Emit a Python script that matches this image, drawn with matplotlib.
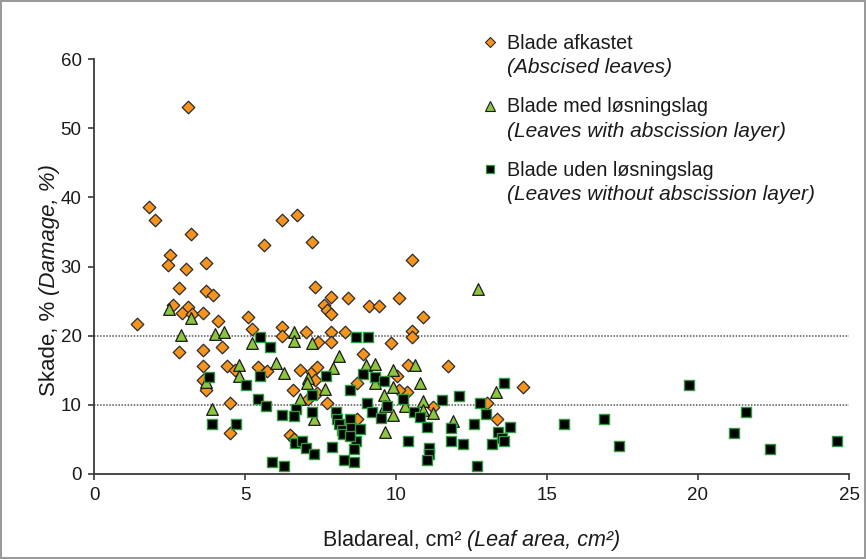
import numpy as np
import matplotlib as mpl
mpl.use("Agg")
import matplotlib.pyplot as plt
from matplotlib.lines import Line2D

plt.rcParams['font.family'] = ['Liberation Sans', 'DejaVu Sans']

# Blade afkastet (abscised leaves)
abscised_x = [3.10, 1.83, 2.03, 3.22, 2.50, 2.44, 3.03, 3.71, 2.83, 3.71, 3.93, 2.63, 3.12, 2.90,
              3.23, 3.62, 4.12, 1.42, 2.83, 3.62, 4.23, 3.62, 4.42, 4.67, 3.71, 4.50, 4.50, 5.11,
              5.22, 5.63, 6.23, 6.71, 7.23, 6.23, 6.23, 7.02, 7.43, 7.84, 7.84, 8.31, 7.32, 7.84,
              8.42, 7.63, 7.73, 7.84, 9.12, 9.44, 10.11, 10.52, 10.91, 10.52, 10.52, 9.82, 8.92,
              10.41, 11.71, 10.03, 8.72, 10.35, 11.24, 13.00, 13.33, 14.20, 8.70, 7.70, 5.44,
              5.72, 6.82, 7.21, 7.37, 7.32, 6.60, 7.10, 7.37, 6.49, 6.62, 3.62, 10.11]
abscised_y = [53.0, 38.6, 36.7, 34.7, 31.7, 30.2, 29.7, 30.5, 26.9, 26.5, 25.9, 24.5, 24.2, 23.3,
              23.2, 23.3, 22.1, 21.7, 17.6, 18.0, 18.4, 15.6, 15.6, 15.0, 12.1, 10.2, 6.0, 22.7,
              21.0, 33.1, 36.7, 37.4, 33.6, 21.2, 19.9, 20.6, 19.1, 20.6, 19.1, 20.5, 27.1, 25.6,
              25.4, 24.4, 23.7, 23.1, 24.3, 24.3, 25.4, 30.9, 22.7, 20.7, 19.8, 18.9, 17.4,
              15.8, 15.6, 14.2, 13.1, 11.9, 9.7, 10.2, 8.0, 12.6, 8.0, 10.3, 15.5,
              14.9, 15.0, 14.8, 15.5, 13.6, 12.2, 10.9, 11.7, 5.6, 5.0, 13.6, 12.1]

# Blade med løsningslag (leaves with abscission layer)
with_layer_x = [2.49, 3.22, 2.89, 4.01, 4.30, 4.81, 4.81, 3.71, 3.90, 5.23, 6.63, 6.63, 7.22,
                6.02, 6.30, 8.10, 7.91, 7.10, 7.04, 7.65, 6.82, 7.30, 9.02, 9.30, 9.30, 9.90,
                10.63, 10.81, 9.90, 9.59, 9.62, 10.30, 10.90, 10.90, 11.24, 9.91, 9.62, 11.90,
                12.73, 13.30]
with_layer_y = [23.8, 22.5, 20.1, 20.2, 20.6, 15.8, 14.2, 13.3, 9.4, 18.9, 20.6, 19.3, 18.9,
                16.1, 14.6, 17.0, 15.3, 13.9, 13.1, 12.3, 10.8, 7.9, 15.8, 15.9, 13.1, 15.0,
                15.8, 13.2, 12.6, 11.4, 9.8, 9.8, 10.6, 9.3, 8.8, 8.5, 6.1, 7.6,
                26.7, 11.9]

# Blade uden løsningslag (leaves without abscission layer)
without_layer_x = [3.82, 3.90, 4.69, 5.02, 5.50, 5.82, 5.50, 5.42, 5.70, 6.21, 6.69, 6.61, 7.22,
                   7.22, 7.69, 8.01, 6.66, 6.88, 7.02, 7.30, 5.88, 6.29, 7.89, 8.29, 8.61, 8.68,
                   9.08, 8.49, 8.90, 9.30, 9.61, 9.03, 9.21, 9.49, 9.70, 8.03, 8.10, 8.20, 8.26,
                   8.48, 8.50, 8.82, 8.69, 8.62, 8.48, 10.22, 10.61, 10.81, 11.01, 11.51, 12.10,
                   11.82, 11.82, 12.22, 10.41, 11.10, 11.10, 11.01, 12.69, 12.57, 12.77, 12.98,
                   13.58, 13.77, 13.39, 13.52, 13.58, 13.19, 15.57, 16.90, 17.37, 19.71, 21.59,
                   21.19, 22.38, 24.59]
without_layer_y = [14.0, 7.2, 7.2, 12.9, 19.8, 18.3, 14.2, 10.8, 9.8, 8.6, 9.4, 8.4, 11.4,
                   9.0, 14.2, 9.0, 4.5, 4.8, 3.7, 2.9, 1.8, 1.1, 3.9, 2.0, 1.7, 19.8,
                   19.8, 12.1, 14.4, 14.0, 13.4, 10.2, 9.0, 8.1, 9.9, 8.0, 7.2, 6.4, 5.8,
                   8.0, 6.7, 6.5, 4.8, 3.6, 5.5, 10.9, 9.0, 8.3, 6.8, 10.7, 11.3,
                   6.6, 4.8, 4.4, 4.7, 3.8, 2.9, 2.0, 1.2, 7.2, 10.3, 8.7,
                   13.1, 6.8, 6.1, 5.2, 4.8, 4.4, 7.3, 8.0, 4.0, 12.9, 9.0,
                   5.9, 3.6, 4.8]

ref_lines = [10, 20]
x_ticks = [0, 5, 10, 15, 20, 25]
y_ticks = [0, 10, 20, 30, 40, 50, 60]

labels_dk = ["Blade afkastet", "Blade med løsningslag", "Blade uden løsningslag"]
labels_en = ["(Abscised leaves)", "(Leaves with abscission layer)",
             "(Leaves without abscission layer)"]

orange = "#F7941D"
lime = "#8CC63F"
sq_edge = "#2E9B3E"
edge = "#2b2b2b"
txt = "#1a1a1a"

fig = plt.figure(figsize=(8.66, 5.59), dpi=100)
fig.patch.set_edgecolor("#9a9a9a")
fig.patch.set_linewidth(1.5)
ax = fig.add_axes([94 / 866, 85 / 559, 755 / 866, 415 / 559])

for yv in ref_lines:
    ax.axhline(yv, color="#555555", lw=1.1, ls=(0, (1, 1)), zorder=1)

ax.scatter(abscised_x, abscised_y, marker="D", s=6.4 ** 2, c=orange,
           edgecolors=edge, linewidths=0.9, zorder=3, clip_on=False)
ax.scatter(with_layer_x, with_layer_y, marker="^", s=8.4 ** 2, c=lime,
           edgecolors="#1a1a1a", linewidths=0.9, zorder=4, clip_on=False)
ax.scatter(without_layer_x, without_layer_y, marker="s", s=7.2 ** 2, c="black",
           edgecolors=sq_edge, linewidths=1.0, zorder=5, clip_on=False)

ax.set_xlim(0, 25)
ax.set_ylim(0, 60)
ax.set_xticks(x_ticks)
ax.set_yticks(y_ticks)
for s in ["top", "right"]:
    ax.spines[s].set_visible(False)
for s in ["left", "bottom"]:
    ax.spines[s].set_color("#3a3a3a")
    ax.spines[s].set_linewidth(1.3)
ax.tick_params(direction="out", length=4, width=1.2, color="#3a3a3a",
               labelsize=13.5, labelcolor=txt, pad=5)

fig.canvas.draw()
r = fig.canvas.get_renderer()


def text_size(s, size, rot=0, **kw):
    t = fig.text(0, 0, s, fontsize=size, rotation=rot, **kw)
    bb = t.get_window_extent(r)
    t.remove()
    return bb.width, bb.height


# x label: normal part + italic part
fsx = 15.5
w1, _ = text_size("Bladareal, cm² ", fsx)
w2, _ = text_size("(Leaf area, cm²)", fsx, style="italic")
xc = ax.transAxes.transform((0.5, 0))[0] / fig.bbox.width
x0 = xc - (w1 + w2) / 2 / fig.bbox.width
yb = 1 - 546 / 559
fig.text(x0, yb, "Bladareal, cm² ", fontsize=fsx, color=txt, va="baseline")
fig.text(x0 + w1 / fig.bbox.width, yb, "(Leaf area, cm²)", fontsize=fsx,
         color=txt, style="italic", va="baseline")

# y label
fsy = 16
_, h1 = text_size("Skade, % ", fsy, 90)
_, h2 = text_size("(Damage, %)", fsy, 90, style="italic")
yc = 1 - 280 / 559
y0 = yc - (h1 + h2) / 2 / fig.bbox.height
xr = 55 / 866
fig.text(xr, y0, "Skade, % ", fontsize=fsy, color=txt, rotation=90,
         rotation_mode="anchor", ha="left", va="baseline")
fig.text(xr, y0 + h1 / fig.bbox.height, "(Damage, %)", fontsize=fsy, color=txt,
         rotation=90, rotation_mode="anchor", ha="left", va="baseline", style="italic")

# legend
fsl = 14.2
handles = [
    Line2D([], [], ls="none", marker="D", ms=5.0, mfc=orange, mec=edge, mew=0.8),
    Line2D([], [], ls="none", marker="^", ms=6.5, mfc=lime, mec="#1a1a1a", mew=0.8),
    Line2D([], [], ls="none", marker="s", ms=5.5, mfc="black", mec=sq_edge, mew=0.9),
]
leg = ax.legend(handles, labels_dk, loc="upper left", bbox_to_anchor=(0.5126, 1.06),
                frameon=False, fontsize=fsl, borderpad=0, borderaxespad=0,
                handlelength=0.92, handletextpad=0.4, labelspacing=2.25)
leg.set_zorder(6)
for t, en in zip(leg.get_texts(), labels_en):
    t.set_color(txt)
    an = ax.annotate(en, xy=(0, 0), xycoords=t, xytext=(0, -14.6),
                     textcoords="offset points", fontsize=15.0, style="italic",
                     color=txt, va="baseline", ha="left", annotation_clip=False)
    an.set_zorder(7)

fig.canvas.draw()
fig.savefig("out.png", dpi=100, edgecolor=fig.get_edgecolor())
